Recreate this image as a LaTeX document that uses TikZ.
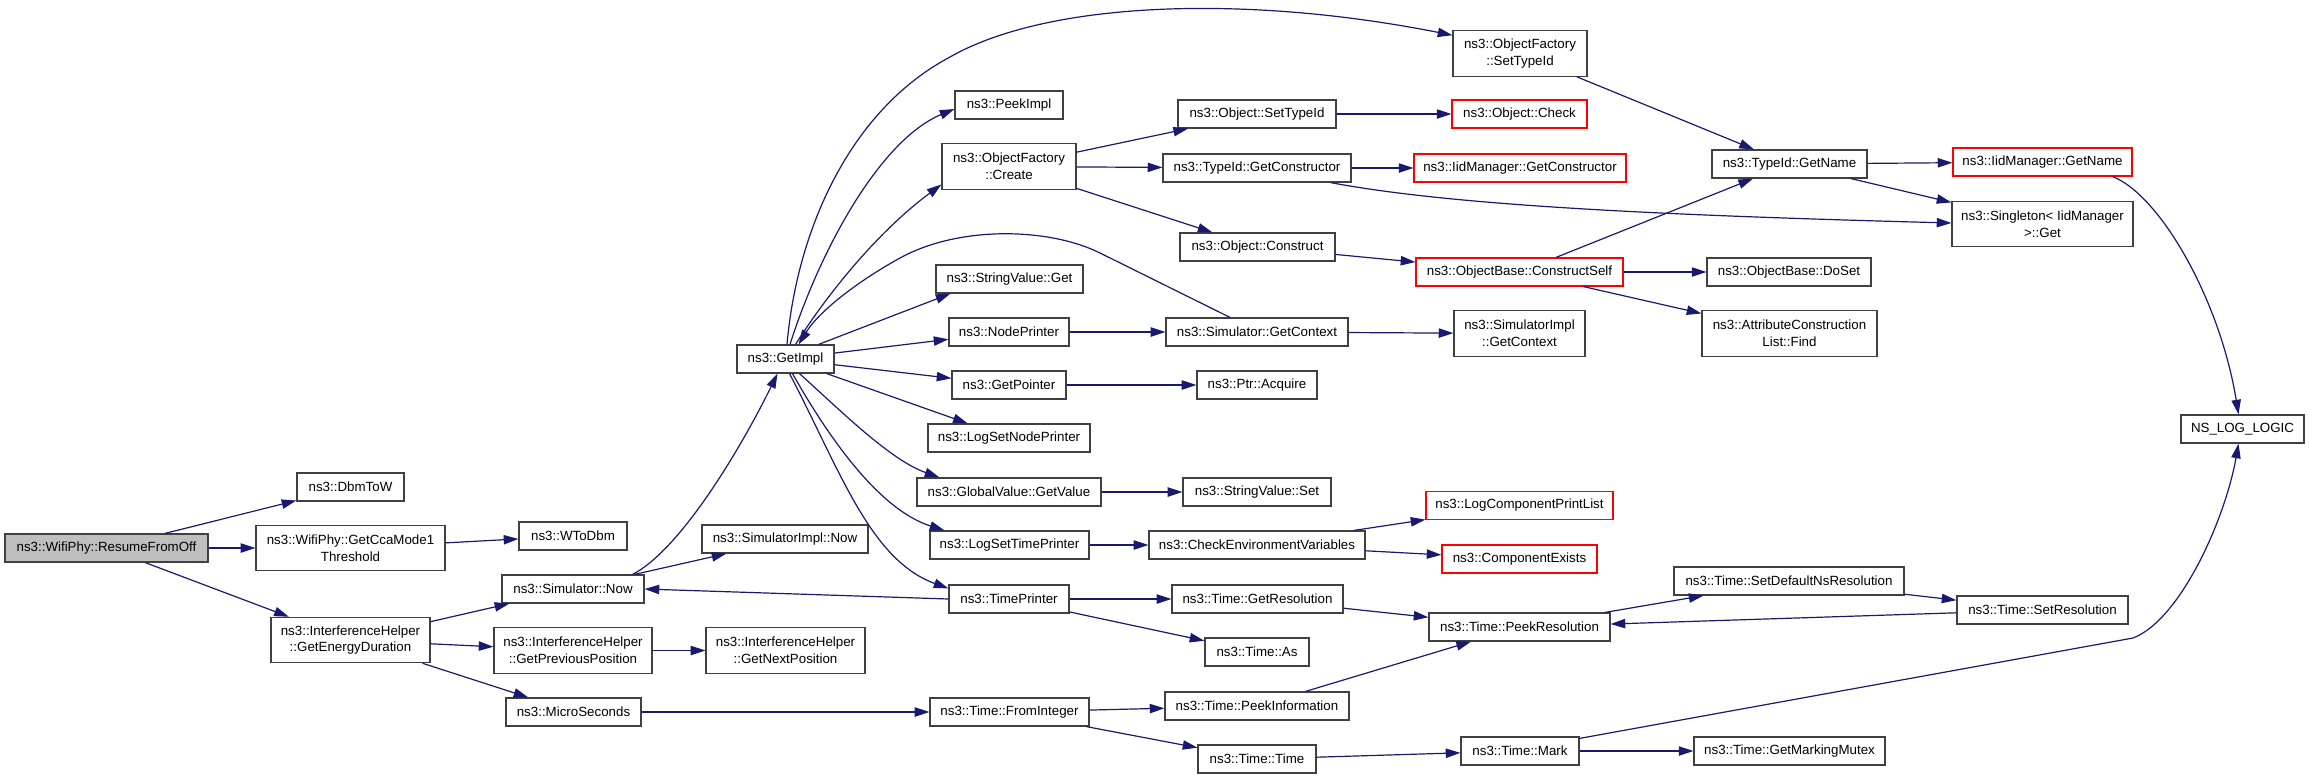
\documentclass[tikz,border=0pt]{standalone}
\usepackage{fontspec}
\setmainfont{Liberation Sans}
\usetikzlibrary{arrows.meta,calc}
\definecolor{edgeblue}{HTML}{191970}
\definecolor{rootgray}{HTML}{BFBFBF}
\begin{document}
\begin{tikzpicture}[
            x=0.75pt,y=-0.75pt,
            box/.style={rectangle,draw=black!75,line width=0.9pt,fill=white,inner sep=1pt,minimum height=21pt,align=center,font=\fontsize{10}{12.5}\selectfont},
            tall/.style={minimum height=34pt},
            redbox/.style={box,draw=red},
            boxw/.style={minimum width=#1*0.75pt},
            call/.style={-{Triangle[length=11pt,width=7pt]},color=edgeblue,line width=0.9pt}
        ]
            \useasboundingbox (0,0) rectangle (2309,779);

            % first columns
            \node[box,fill=rootgray,boxw=203] (resume) at (106.5,548) {ns3::WifiPhy::ResumeFromOff};
            \node[box,boxw=107] (dbm) at (350.5,487) {ns3::DbmToW};
            \node[box,tall,boxw=189] (cca) at (350.5,548) {ns3::WifiPhy::GetCcaMode1\\Threshold};
            \node[box,tall,boxw=159] (energy) at (350.5,640) {ns3::InterferenceHelper\\::GetEnergyDuration};
            \node[box,boxw=108] (wtodbm) at (573,536) {ns3::WToDbm};
            \node[box,boxw=142] (simnow) at (573,589) {ns3::Simulator::Now};
            \node[box,tall,boxw=158] (prevpos) at (573,650.5) {ns3::InterferenceHelper\\::GetPreviousPosition};
            \node[box,boxw=135] (micro) at (573.5,712) {ns3::MicroSeconds};
            \node[box,boxw=166] (implnow) at (785,539) {ns3::SimulatorImpl::Now};
            \node[box,tall,boxw=159] (nextpos) at (785.5,650.5) {ns3::InterferenceHelper\\::GetNextPosition};
            \node[box,boxw=97] (getimpl) at (785.5,359) {ns3::GetImpl};

            % callees of GetImpl
            \node[box,boxw=108] (peekimpl) at (1009,105) {ns3::PeekImpl};
            \node[box,tall,boxw=134] (create) at (1009,166.5) {ns3::ObjectFactory\\::Create};
            \node[box,boxw=147] (svget) at (1009.5,279) {ns3::StringValue::Get};
            \node[box,boxw=120] (nodeprinter) at (1009,332) {ns3::NodePrinter};
            \node[box,boxw=114] (getpointer) at (1009,385) {ns3::GetPointer};
            \node[box,boxw=162] (lognode) at (1009,438) {ns3::LogSetNodePrinter};
            \node[box,boxw=184] (gvget) at (1009,492) {ns3::GlobalValue::GetValue};
            \node[box,boxw=159] (logtime) at (1009.5,545) {ns3::LogSetTimePrinter};
            \node[box,boxw=120] (timeprinter) at (1009,599) {ns3::TimePrinter};
            \node[box,boxw=159] (frominteger) at (1009.5,712) {ns3::Time::FromInteger};

            \node[box,boxw=158] (setid) at (1257,114) {ns3::Object::SetTypeId};
            \node[box,boxw=188] (getctor) at (1257,168) {ns3::TypeId::GetConstructor};
            \node[box,boxw=155] (construct) at (1257.5,247) {ns3::Object::Construct};
            \node[box,boxw=182] (simctx) at (1257,332) {ns3::Simulator::GetContext};
            \node[box,boxw=120] (acquire) at (1257,385) {ns3::Ptr::Acquire};
            \node[box,boxw=148] (svset) at (1257,492) {ns3::StringValue::Set};
            \node[box,boxw=216] (checkenv) at (1257,545) {ns3::CheckEnvironmentVariables};
            \node[box,boxw=171] (getres) at (1257.5,599) {ns3::Time::GetResolution};
            \node[box,boxw=104] (timeas) at (1257,652) {ns3::Time::As};
            \node[box,boxw=184] (peekinfo) at (1257,706) {ns3::Time::PeekInformation};
            \node[box,boxw=118] (timetime) at (1257,759) {ns3::Time::Time};

            \node[box,tall,boxw=134] (factsetid) at (1520,53.5) {ns3::ObjectFactory\\::SetTypeId};
            \node[redbox,boxw=135] (check) at (1519.5,114) {ns3::Object::Check};
            \node[redbox,boxw=212] (iidctor) at (1520,168) {ns3::IidManager::GetConstructor};
            \node[redbox,boxw=207] (constructself) at (1519.5,272) {ns3::ObjectBase::ConstructSelf};
            \node[box,tall,boxw=131] (implctx) at (1519.5,333.5) {ns3::SimulatorImpl\\::GetContext};
            \node[redbox,boxw=187] (printlist) at (1519.5,505.5) {ns3::LogComponentPrintList};
            \node[redbox,boxw=155] (exists) at (1519.5,559) {ns3::ComponentExists};
            \node[box,boxw=181] (peekres) at (1519.5,627) {ns3::Time::PeekResolution};
            \node[box,boxw=118] (mark) at (1520,751) {ns3::Time::Mark};

            \node[box,boxw=155] (getname) at (1789.5,164) {ns3::TypeId::GetName};
            \node[box,boxw=164] (doset) at (1789,272) {ns3::ObjectBase::DoSet};
            \node[box,tall,boxw=175] (find) at (1789.5,333.5) {ns3::AttributeConstruction\\List::Find};
            \node[box,boxw=230] (setdefault) at (1789,581) {ns3::Time::SetDefaultNsResolution};
            \node[box,boxw=191] (mutex) at (1789.5,751) {ns3::Time::GetMarkingMutex};

            \node[redbox,boxw=179] (iidname) at (2042.5,162) {ns3::IidManager::GetName};
            \node[box,tall,boxw=181] (singleton) at (2042.5,224) {ns3::Singleton< IidManager\\>::Get};
            \node[box,boxw=171] (setres) at (2042.5,610) {ns3::Time::SetResolution};
            \node[box,boxw=123] (nslog) at (2242.5,429) {NS\_LOG\_LOGIC};

            % calls
            \draw[call] (resume) -- (dbm);
            \draw[call] (resume) -- (cca);
            \draw[call] (resume) -- (energy);
            \draw[call] (cca) -- (wtodbm);
            \draw[call] (energy) -- (simnow);
            \draw[call] (energy) -- (prevpos);
            \draw[call] (energy) -- (micro);
            \draw[call] (prevpos) -- (nextpos);
            \draw[call] (micro) -- (frominteger);
            \draw[call] ($(simnow.north east)+(-12,0)$) .. controls (680,550) and (740,450) .. ($(getimpl.south)+(-8,0)$);
            \draw[call] ($(simnow.north east)+(-10,0)$) -- ($(implnow.south west)+(25,0)$);

            \draw[call] ($(getimpl.north)+(1.5,0)$) .. controls (797,230) and (850,110) .. (950,57) .. controls (1050,0) and (1250,-5) .. ($(factsetid.north west)+(0,5)$);
            \draw[call] ($(getimpl.north)+(4.5,0)$) .. controls (820,250) and (880,140) .. ($(peekimpl.west)+(0,4)$);
            \draw[call] ($(getimpl.north)+(10,0)$) .. controls (830,290) and (880,230) .. ($(create.west)+(0,18)$);
            \draw[call] ($(simctx.north)+(-27,0)$) -- (1100,253) .. controls (1050,228) and (960,225) .. (900,258) .. controls (860,280) and (820,310) .. ($(getimpl.north)+(13,0)$);
            \draw[call] ($(getimpl.north east)+(-16,0)$) -- ($(svget.south west)+(15,0)$);
            \draw[call] (getimpl) -- (nodeprinter);
            \draw[call] (getimpl) -- (getpointer);
            \draw[call] (getimpl) -- (lognode);
            \draw[call] ($(getimpl.south)+(14,0)$) .. controls (840,410) and (890,460) .. ($(gvget.north west)+(23,0)$);
            \draw[call] ($(getimpl.south)+(7,0)$) .. controls (830,440) and (880,510) .. ($(logtime.north west)+(15,0)$);
            \draw[call] ($(getimpl.south)+(4,0)$) .. controls (840,470) and (870,560) .. ($(timeprinter.north west)+(0,4)$);
            \draw[call] (timeprinter.west) -- (simnow.east);

            \draw[call] (create) -- (setid);
            \draw[call] (create) -- (getctor);
            \draw[call] (create) -- (construct);
            \draw[call] (setid) -- (check);
            \draw[call] (getctor) -- (iidctor);
            \draw[call] ($(getctor.south east)+(-21,0)$) .. controls (1450,205) and (1650,215) .. ($(singleton.west)+(0,-1)$);
            \draw[call] (construct) -- (constructself);
            \draw[call] (nodeprinter) -- (simctx);
            \draw[call] (simctx) -- (implctx);
            \draw[call] (getpointer) -- (acquire);
            \draw[call] (gvget) -- (svset);
            \draw[call] (logtime) -- (checkenv);
            \draw[call] (checkenv) -- (printlist);
            \draw[call] (checkenv) -- (exists);
            \draw[call] (timeprinter) -- (getres);
            \draw[call] (timeprinter) -- (timeas);
            \draw[call] (getres) -- (peekres);
            \draw[call] (frominteger) -- (peekinfo);
            \draw[call] (frominteger) -- (timetime);
            \draw[call] (peekinfo) -- (peekres);
            \draw[call] (timetime) -- (mark);

            \draw[call] (factsetid) -- (getname);
            \draw[call] (constructself) -- (getname);
            \draw[call] (constructself) -- (doset);
            \draw[call] (constructself) -- (find);
            \draw[call] (getname) -- (iidname);
            \draw[call] (getname) -- (singleton);
            \draw[call] ($(iidname.south east)+(-20,0)$) .. controls (2160,195) and (2220,300) .. ($(nslog.north)+(-4,0)$);
            \draw[call] (peekres) -- (setdefault);
            \draw[call] (setdefault) -- (setres);
            \draw[call] (setres) -- (peekres);
            \draw[call] ($(mark.north east)+(0,2)$) -- (2133,638) .. controls (2180,620) and (2225,520) .. ($(nslog.south)+(-4,0)$);
            \draw[call] (mark) -- (mutex);
        \end{tikzpicture}
\end{document}
